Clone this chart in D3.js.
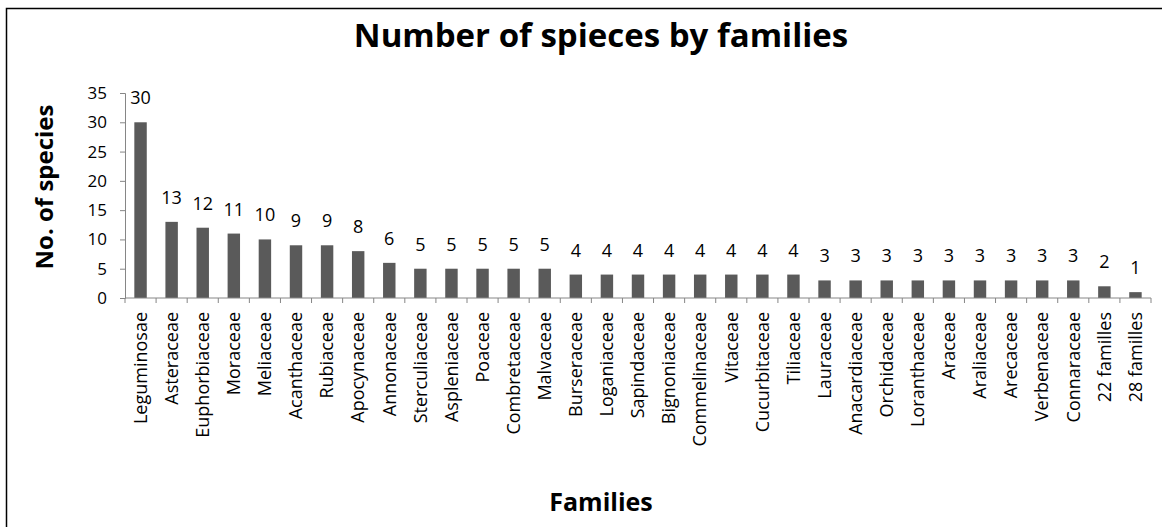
<!DOCTYPE html>
<html>
<head>
<meta charset="utf-8">
<script src="https://cdn.jsdelivr.net/npm/d3@7"></script>
<style>
  body { margin: 0; background: #fff; }
  text { font-family: "Open Sans", Lato, sans-serif; fill: #000; }
</style>
</head>
<body>
<script>
// chart data
const families = ["Leguminosae", "Asteraceae", "Euphorbiaceae", "Moraceae", "Meliaceae", "Acanthaceae",
    "Rubiaceae", "Apocynaceae", "Annonaceae", "Sterculiaceae", "Aspleniaceae", "Poaceae", "Combretaceae",
    "Malvaceae", "Burseraceae", "Loganiaceae", "Sapindaceae", "Bignoniaceae", "Commelinaceae", "Vitaceae",
    "Cucurbitaceae", "Tiliaceae", "Lauraceae", "Anacardiaceae", "Orchidaceae", "Loranthaceae", "Araceae",
    "Araliaceae", "Arecaceae", "Verbenaceae", "Connaraceae", "22 familles", "28 familles"];
const speciesCount = [30, 13, 12, 11, 10, 9, 9, 8, 6, 5, 5, 5, 5, 5, 4, 4, 4, 4, 4, 4, 4, 4,
    3, 3, 3, 3, 3, 3, 3, 3, 3, 2, 1];
const yTicks = [0, 5, 10, 15, 20, 25, 30, 35];

const W = 1162, H = 527;
const plot = { left: 125, right: 1151, top: 93, bottom: 298 };

const svg = d3.select('body').append('svg')
    .attr('width', W)
    .attr('height', H);

// outer frame (clipped at right/bottom like the reference)
svg.append('rect')
    .attr('x', 6.5).attr('y', 8.5)
    .attr('width', W).attr('height', H)
    .attr('fill', 'none')
    .attr('stroke', '#000')
    .attr('stroke-width', 1.5);

const x = d3.scaleBand()
    .domain(families)
    .range([plot.left, plot.right])
    .paddingInner(0.6)
    .paddingOuter(0.3);

const y = d3.scaleLinear()
    .domain([0, 35])
    .range([plot.bottom, plot.top]);

// bars
svg.append('g')
    .selectAll('rect')
    .data(families)
    .join('rect')
    .attr('x', d => x(d))
    .attr('y', (d, i) => y(speciesCount[i]))
    .attr('width', x.bandwidth())
    .attr('height', (d, i) => y(0) - y(speciesCount[i]))
    .attr('fill', '#5a5a5a');

// value labels
svg.append('g')
    .selectAll('text')
    .data(families)
    .join('text')
    .attr('x', d => x(d) + x.bandwidth() / 2)
    .attr('y', (d, i) => y(speciesCount[i]) - 18)
    .attr('text-anchor', 'middle')
    .style('font-size', '18px')
    .text((d, i) => speciesCount[i]);

// y axis
const yAxis = svg.append('g')
    .attr('transform', `translate(${plot.left},0)`)
    .call(d3.axisLeft(y).tickValues(yTicks).tickSize(5).tickPadding(13));
yAxis.selectAll('text').style('font-size', '17px');
yAxis.select('.domain').attr('stroke', '#868686');
yAxis.selectAll('.tick line').attr('stroke', '#868686');

// x axis with boundary ticks
const xAxisG = svg.append('g')
    .attr('transform', `translate(0,${plot.bottom})`);
xAxisG.append('line')
    .attr('x1', plot.left).attr('x2', plot.right)
    .attr('stroke', '#868686');
const bounds = d3.range(families.length + 1).map(i => plot.left + (plot.right - plot.left) * i / families.length);
xAxisG.selectAll('.xt')
    .data(bounds)
    .join('line')
    .attr('class', 'xt')
    .attr('x1', d => d).attr('x2', d => d)
    .attr('y1', 0).attr('y2', 5)
    .attr('stroke', '#868686');
xAxisG.selectAll('.xl')
    .data(families)
    .join('text')
    .attr('class', 'xl')
    .attr('transform', d => `translate(${x(d) + x.bandwidth() / 2},14) rotate(-90)`)
    .attr('dy', '0.35em')
    .attr('text-anchor', 'end')
    .style('font-size', '18px')
    .text(d => d);

// title and axis titles
svg.append('text')
    .attr('x', 601).attr('y', 47)
    .attr('text-anchor', 'middle')
    .style('font-size', '33px')
    .style('font-weight', 'bold')
    .text('Number of spieces by families');

svg.append('text')
    .attr('transform', 'translate(53,187) rotate(-90)')
    .attr('text-anchor', 'middle')
    .style('font-size', '24px')
    .style('font-weight', 'bold')
    .text('No. of species');

svg.append('text')
    .attr('x', 601).attr('y', 511)
    .attr('text-anchor', 'middle')
    .style('font-size', '25px')
    .style('font-weight', 'bold')
    .text('Families');
</script>
</body>
</html>
